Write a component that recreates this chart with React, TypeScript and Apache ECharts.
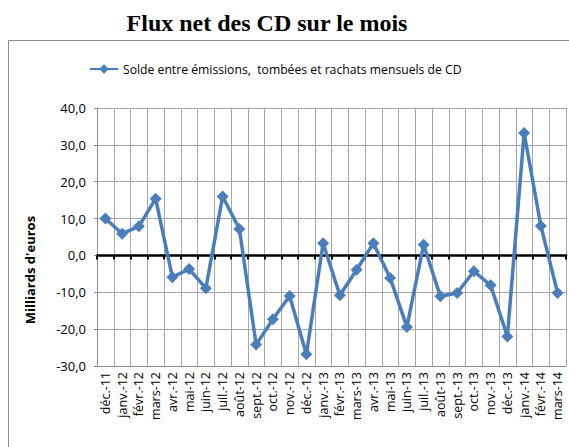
import React, { useEffect, useRef } from "react";
import * as echarts from "echarts";

const categories = [
  "déc.-11", "janv.-12", "févr.-12", "mars-12", "avr.-12", "mai-12", "juin-12",
  "juil.-12", "août-12", "sept.-12", "oct.-12", "nov.-12", "déc.-12", "janv.-13",
  "févr.-13", "mars-13", "avr.-13", "mai-13", "juin-13", "juil.-13", "août-13",
  "sept.-13", "oct.-13", "nov.-13", "déc.-13", "janv.-14", "févr.-14", "mars-14",
];
const soldeValues = [
  10.0, 5.9, 7.9, 15.4, -5.9, -3.7, -8.9, 16.0, 7.2, -24.2, -17.3, -11.0, -26.8, 3.3,
  -10.8, -3.9, 3.3, -6.1, -19.4, 2.9, -11.1, -10.2, -4.3, -8.1, -22.0, 33.2, 8.0, -10.2,
];
const seriesName = "Solde entre émissions,  tombées et rachats mensuels de CD";
const titleText = "Flux net des CD sur le mois";
const yAxisTitle = "Milliards d'euros";

export default function App() {
  const ref = useRef<HTMLDivElement>(null);
  useEffect(() => {
    if (!ref.current) return;
    const chart = echarts.init(ref.current, null, { renderer: "svg" });
    const font = "Open Sans";
    chart.setOption({
      animation: false,
      backgroundColor: "#ffffff",
      legend: {
        top: 58,
        left: 84,
        itemWidth: 28,
        itemHeight: 12,
        itemGap: 4,
        textStyle: { fontFamily: font, fontSize: 12.2, color: "#000" },
        data: [seriesName],
      },
      graphic: [
        {
          type: "rect",
          shape: { x: 8.5, y: 40.5, width: 600, height: 450 },
          style: { fill: "none", stroke: "#8c8c8c", lineWidth: 1 },
          silent: true,
        },
        {
          type: "text",
          x: 267,
          y: 23,
          style: {
            text: titleText,
            fontFamily: "Liberation Serif",
            fontWeight: "bold",
            fontSize: 24,
            fill: "#000",
            align: "center",
            verticalAlign: "middle",
          },
        },
        {
          type: "text",
          x: 30,
          y: 270,
          rotation: Math.PI / 2,
          style: {
            text: yAxisTitle,
            fontFamily: font,
            fontWeight: "bold",
            fontSize: 13,
            fill: "#000",
            align: "center",
            verticalAlign: "middle",
          },
        },
      ],
      grid: { left: 97, right: 3, top: 108, bottom: 81, containLabel: false },
      xAxis: [
        {
          type: "category",
          data: categories,
          boundaryGap: true,
          position: "bottom",
          axisLine: { onZero: false, lineStyle: { color: "#8c8c8c", width: 1 } },
          axisTick: { show: false },
          splitLine: { show: true, interval: 0, lineStyle: { color: "#a6a6a6", width: 1 } },
          axisLabel: {
            interval: 0,
            rotate: 90,
            margin: 6,
            fontFamily: font,
            fontSize: 12.5,
            color: "#000",
          },
        },
        {
          type: "category",
          data: categories,
          boundaryGap: true,
          position: "bottom",
          axisLine: { onZero: true, lineStyle: { color: "#000", width: 2.5 } },
          axisTick: { show: true, interval: 0, length: 4, lineStyle: { color: "#000", width: 2 } },
          axisLabel: { show: false },
          splitLine: { show: false },
        },
      ],
      yAxis: {
        type: "value",
        min: -30,
        max: 40,
        interval: 10,
        axisLine: { show: true, lineStyle: { color: "#8c8c8c" } },
        axisTick: { show: true, length: 3, lineStyle: { color: "#8c8c8c" } },
        splitLine: { show: true, lineStyle: { color: "#a6a6a6", width: 1 } },
        axisLabel: {
          margin: 11,
          fontFamily: font,
          fontSize: 13,
          color: "#000",
          formatter: (v: number) => v.toFixed(1).replace(".", ","),
        },
      },
      series: [
        {
          name: seriesName,
          type: "line",
          xAxisIndex: 0,
          data: soldeValues,
          symbol: "diamond",
          symbolSize: 12,
          lineStyle: { color: "#4a7ebb", width: 3.5 },
          itemStyle: { color: "#4a7ebb" },
          z: 5,
        },
      ],
    });
    return () => chart.dispose();
  }, []);
  return (
    <div
      ref={ref}
      style={{ position: "fixed", left: 0, top: 0, width: 569, height: 447 }}
    />
  );
}
